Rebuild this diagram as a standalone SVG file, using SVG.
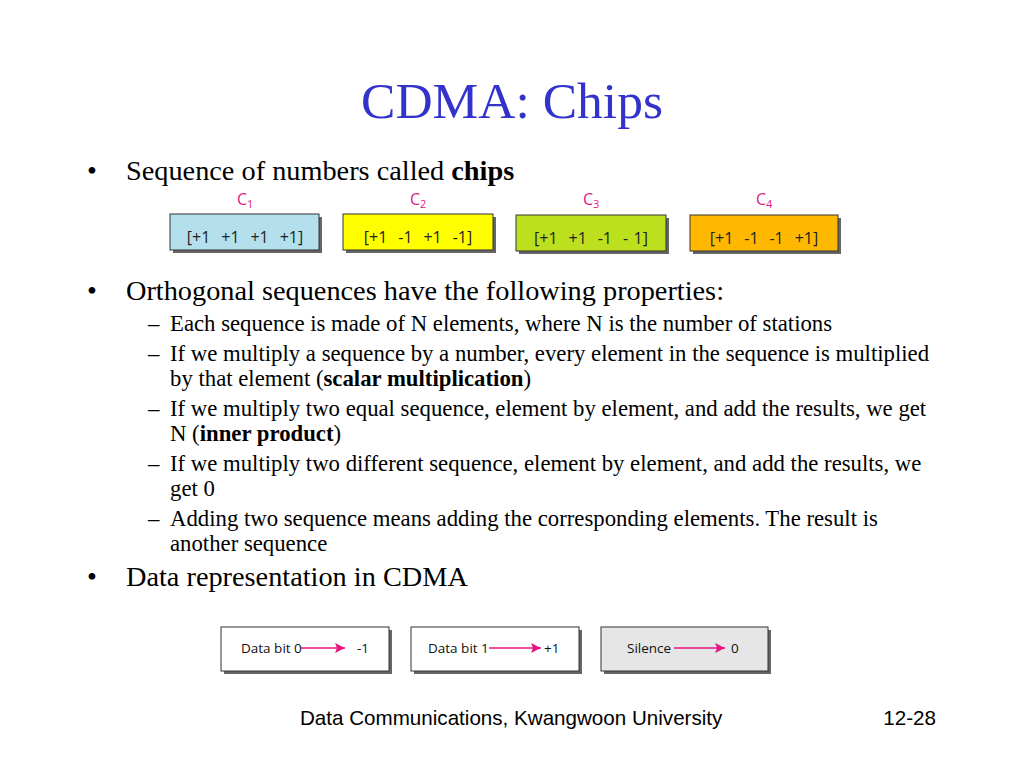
<svg xmlns="http://www.w3.org/2000/svg" width="1024" height="768" viewBox="0 0 1024 768">
<style>
.title{font-family:"Liberation Serif","Times New Roman",serif;font-size:51.5px;fill:#3333cc}
.b1{font-family:"Liberation Serif","Times New Roman",serif;font-size:28.3px;fill:#000}
.b2{font-family:"Liberation Serif","Times New Roman",serif;font-size:22.75px;fill:#000}
.bd{font-weight:bold}
.lab{font-family:"Open Sans","Liberation Sans",sans-serif;font-size:16px;fill:#e0207f}
.chip{font-family:"Open Sans","Liberation Sans",sans-serif;font-size:16px;fill:#222;word-spacing:1.3px}
.dt{font-family:"Open Sans","Liberation Sans",sans-serif;font-size:13.5px;fill:#111}
.foot{font-family:"Liberation Sans",Arial,sans-serif;font-size:20.6px;fill:#000}
.shadow{fill:#666}
.box{stroke:#333;stroke-width:1}
.arr{stroke:#e8157f;stroke-width:1.5;fill:none}
</style>
<defs>
<marker id="ah" viewBox="0 0 10 10" refX="10" refY="5" markerWidth="12" markerHeight="10" markerUnits="userSpaceOnUse" orient="auto">
<path d="M0,0 L10,5 L0,10 L2,5 Z" fill="#e8157f"/>
</marker>
</defs>
<rect width="1024" height="768" fill="#fff"/>
<text class="title" x="512" y="118" text-anchor="middle">CDMA: Chips</text>

<text class="b1" x="87" y="180">•</text>
<text class="b1" x="126" y="180">Sequence of numbers called <tspan class="bd">chips</tspan></text>

<g id="c1">
<text class="lab" x="237" y="205">C<tspan font-size="11" dy="3">1</tspan></text>
<rect class="shadow" x="173" y="217" width="149" height="36"/>
<rect class="box" x="170" y="214" width="149" height="36" fill="#b3e0ec"/>
<text class="chip" x="245" y="243" text-anchor="middle" xml:space="preserve">[+1  +1  +1  +1]</text>
</g>
<g id="c2">
<text class="lab" x="410" y="205">C<tspan font-size="11" dy="3">2</tspan></text>
<rect class="shadow" x="346" y="217" width="150" height="36"/>
<rect class="box" x="343" y="214" width="150" height="36" fill="#ffff00"/>
<text class="chip" x="418" y="243" text-anchor="middle" xml:space="preserve">[+1  -1  +1  -1]</text>
</g>
<g id="c3">
<text class="lab" x="583" y="205">C<tspan font-size="11" dy="3">3</tspan></text>
<rect class="shadow" x="519" y="218" width="150" height="36"/>
<rect class="box" x="516" y="215" width="150" height="36" fill="#bde01e"/>
<text class="chip" x="591" y="244" text-anchor="middle" xml:space="preserve">[+1  +1  -1  - 1]</text>
</g>
<g id="c4">
<text class="lab" x="756" y="205">C<tspan font-size="11" dy="3">4</tspan></text>
<rect class="shadow" x="693" y="218" width="148" height="36"/>
<rect class="box" x="690" y="215" width="148" height="36" fill="#ffb800"/>
<text class="chip" x="764" y="244" text-anchor="middle" xml:space="preserve">[+1  -1  -1  +1]</text>
</g>

<text class="b1" x="87" y="300">•</text>
<text class="b1" x="126" y="300">Orthogonal sequences have the following properties:</text>

<g class="b2">
<text x="148" y="331">–</text>
<text x="170" y="331">Each sequence is made of N elements, where N is the number of stations</text>
<text x="148" y="361">–</text>
<text x="170" y="361">If we multiply a sequence by a number, every element in the sequence is multiplied</text>
<text x="170" y="386">by that element (<tspan class="bd">scalar multiplication</tspan>)</text>
<text x="148" y="416">–</text>
<text x="170" y="416">If we multiply two equal sequence, element by element, and add the results, we get</text>
<text x="170" y="441">N (<tspan class="bd">inner product</tspan>)</text>
<text x="148" y="471">–</text>
<text x="170" y="471">If we multiply two different sequence, element by element, and add the results, we</text>
<text x="170" y="496">get 0</text>
<text x="148" y="526">–</text>
<text x="170" y="526">Adding two sequence means adding the corresponding elements. The result is</text>
<text x="170" y="551">another sequence</text>
</g>

<text class="b1" x="87" y="586">•</text>
<text class="b1" x="126" y="586">Data representation in CDMA</text>

<g id="d0">
<rect class="shadow" x="224" y="630" width="168" height="44"/>
<rect class="box" x="221" y="627" width="168" height="44" fill="#fff"/>
<text class="dt" x="241" y="653">Data bit 0</text>
<text class="dt" x="357" y="653">-1</text>
</g>
<g id="d1">
<rect class="shadow" x="414" y="630" width="168" height="44"/>
<rect class="box" x="411" y="627" width="168" height="44" fill="#fff"/>
<text class="dt" x="428" y="653">Data bit 1</text>
<text class="dt" x="544" y="653">+1</text>
</g>
<g id="d2">
<rect class="shadow" x="604" y="630" width="167" height="44"/>
<rect class="box" x="601" y="627" width="167" height="44" fill="#e6e6e6"/>
<text class="dt" x="627" y="653">Silence</text>
<text class="dt" x="731" y="653">0</text>
</g>
<g id="connectors">
<line class="arr" x1="301" y1="648" x2="345" y2="648" marker-end="url(#ah)"/>
<line class="arr" x1="489" y1="648" x2="541" y2="648" marker-end="url(#ah)"/>
<line class="arr" x1="674" y1="648" x2="725" y2="648" marker-end="url(#ah)"/>
</g>

<text class="foot" x="300" y="725">Data Communications, Kwangwoon University</text>
<text class="foot" x="936" y="725" text-anchor="end">12-28</text>
</svg>
